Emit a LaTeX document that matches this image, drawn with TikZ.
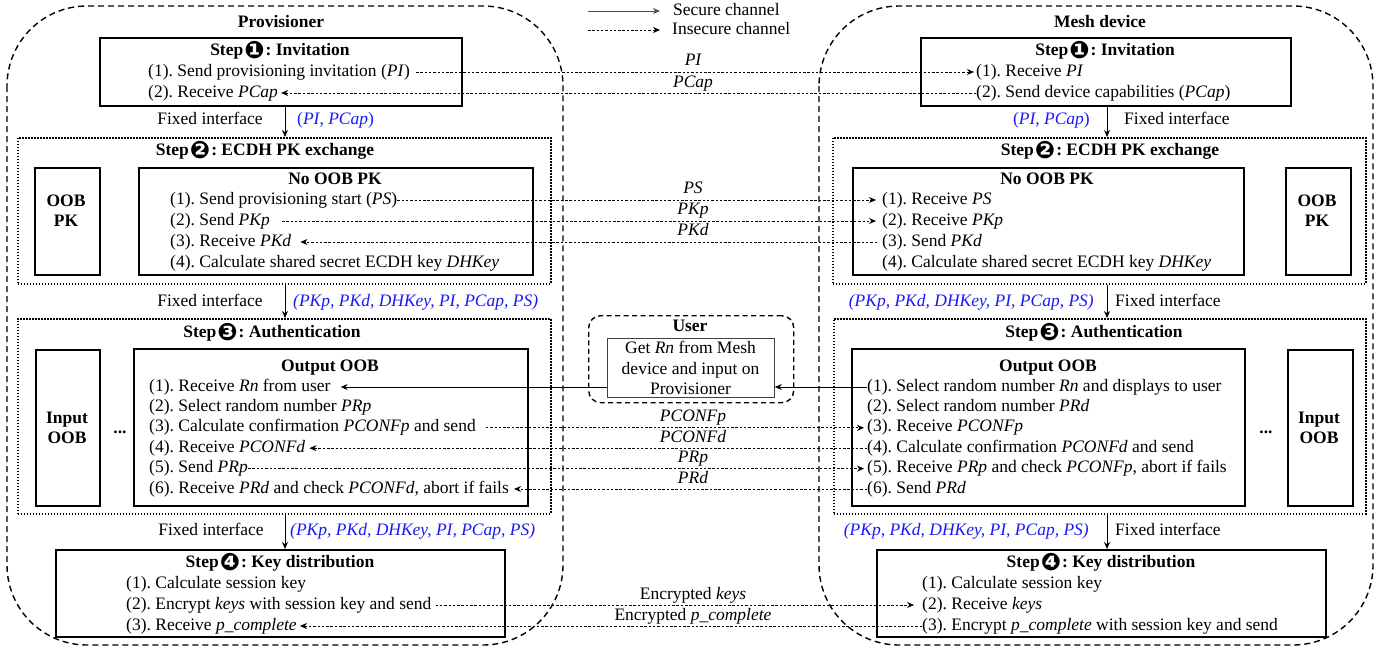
\documentclass[tikz,border=0pt]{standalone}
\usepackage{fontspec}
\setmainfont{Liberation Serif}
\newfontfamily\symfont{DejaVu Sans}
\usetikzlibrary{arrows.meta}
\definecolor{myblue}{RGB}{25,25,245}
\newcommand\myfs{\fontsize{17.5}{20.4}\selectfont\frenchspacing}
\newcommand\stepnum[1]{\kern1pt\raisebox{-3pt}{\symfont\fontsize{24}{24}\selectfont #1}\kern1pt}
\begin{document}
\begin{tikzpicture}[x=1pt,y=-1pt,
  txt/.style={inner sep=0pt, font=\myfs, text height=12pt, text depth=4pt},
  lt/.style={txt, anchor=west},
  hd/.style={txt, font=\myfs\bfseries},
  mtxt/.style={inner sep=0pt, font=\myfs, align=center},
  mhd/.style={inner sep=0pt, font=\myfs\bfseries, align=center},
  lbl/.style={txt, font=\myfs\itshape},
  iface/.style={txt, text=myblue},
  box/.style={draw, line width=1.8pt, inner sep=0pt, anchor=north west},
  dbox/.style={draw, line width=1.5pt, dash pattern=on 1.5pt off 1.5pt, inner sep=0pt, anchor=north west},
  outer/.style={draw, line width=1.4pt, dash pattern=on 6pt off 4pt, rounded corners=80pt},
  ins/.style={-{Stealth[length=7pt,width=6pt]}, line width=0.75pt, dash pattern=on 2.5pt off 1.8pt},
  sec/.style={-{Stealth[length=7pt,width=6pt]}, line width=0.9pt},
]
\useasboundingbox (0,0) rectangle (1391,648);

% outer shapes
\draw[outer] (7,6) rectangle (563,645);
\draw[outer] (819,6) rectangle (1373,645);

% titles
\node[hd] (tP) at (281,23) {Provisioner};
\node[hd] (tM) at (1100,23) {Mesh device};

% legend
\coordinate (lg1a) at (588,11); \coordinate (lg1b) at (660,11);
\coordinate (lg2a) at (588,30); \coordinate (lg2b) at (660,30);
\draw[sec, draw=black!70] (lg1a) -- (lg1b);
\draw[ins] (lg2a) -- (lg2b);
\node[lt] (lg1t) at (673,11) {Secure channel};
\node[lt] (lg2t) at (672,30) {Insecure channel};

% vertical fixed-interface coordinates
\coordinate (vL) at (285,0);
\coordinate (vR) at (1107,0);

% ---------------- Step 1 ----------------
\node[box, minimum width=362, minimum height=68] (s1L) at (99,37) {};
\node[hd] (h1L) at (280,51) {Step\stepnum{❶}: Invitation};
\node[lt] (L1a) at (148,72) {(1). Send provisioning invitation (\textit{PI})};
\node[lt] (L1b) at (148,93) {(2). Receive \textit{PCap}};

\node[box, minimum width=370, minimum height=68] (s1R) at (920,37) {};
\node[hd] (h1R) at (1105,51) {Step\stepnum{❶}: Invitation};
\node[lt] (R1a) at (976,72) {(1). Receive \textit{PI}};
\node[lt] (R1b) at (976,93) {(2). Send device capabilities (\textit{PCap})};

\draw[ins] ([xshift=6pt]L1a.east) -- ([xshift=-2pt]R1a.west);
\node[lbl] (lPI) at (693,61) {PI};
\draw[ins] (R1b.west) -- ([xshift=3pt]L1b.east);
\node[lbl] (lPCap) at (693,83) {PCap};

% fixed interface 1
\node[txt] (f1L) at (210,120) {Fixed interface};
\node[iface, anchor=west] (b1L) at (297,120) {(\textit{PI}, \textit{PCap})};
\node[iface, anchor=east] (b1R) at (1090,120) {(\textit{PI}, \textit{PCap})};
\node[lt] (f1R) at (1124,120) {Fixed interface};

% ---------------- Step 2 ----------------
\node[dbox, minimum width=533, minimum height=146] (s2L) at (17,137) {};
\node[dbox, minimum width=533, minimum height=146] (s2R) at (832,137) {};
\draw[sec] (vL |- s1L.south) -- (vL |- s2L.north);
\draw[sec] (vR |- s1R.south) -- (vR |- s2R.north);

\node[hd] (h2L) at (265,151) {Step\stepnum{❷}: ECDH PK exchange};
\node[hd] (h2R) at (1110,151) {Step\stepnum{❷}: ECDH PK exchange};

\node[box, minimum width=65, minimum height=107] (oobL) at (34,167) {};
\node[mhd] (oobLt) at (66,211) {OOB\\PK};
\node[box, minimum width=65, minimum height=107] (oobR) at (1285,167) {};
\node[mhd] (oobRt) at (1317,211) {OOB\\PK};

\node[box, minimum width=394, minimum height=107] (noL) at (138,167) {};
\node[hd] (noLh) at (335,180) {No OOB PK};
\node[lt] (L2a) at (170,200) {(1). Send provisioning start (\textit{PS})};
\node[lt] (L2b) at (170,221) {(2). Send \textit{PKp}};
\node[lt] (L2c) at (170,242) {(3). Receive \textit{PKd}};
\node[lt] (L2d) at (170,263) {(4). Calculate shared secret ECDH key \textit{DHKey}};

\node[box, minimum width=391, minimum height=107] (noR) at (852,167) {};
\node[hd] (noRh) at (1047,180) {No OOB PK};
\node[lt] (R2a) at (882,200) {(1). Receive \textit{PS}};
\node[lt] (R2b) at (882,221) {(2). Receive \textit{PKp}};
\node[lt] (R2c) at (882,242) {(3). Send \textit{PKd}};
\node[lt] (R2d) at (882,263) {(4). Calculate shared secret ECDH key \textit{DHKey}};

\draw[ins] (L2a.east) -- ([xshift=-6pt]R2a.west);
\node[lbl] (lPS) at (693,189) {PS};
\draw[ins] ([xshift=12pt]L2b.east) -- ([xshift=-6pt]R2b.west);
\node[lbl] (lPKp) at (693,210) {PKp};
\draw[ins] ([xshift=-5pt]R2c.west) -- ([xshift=9pt]L2c.east);
\node[lbl] (lPKd) at (693,231) {PKd};

% fixed interface 2
\node[txt] (f2L) at (210,302) {Fixed interface};
\node[iface, anchor=west, font=\myfs\itshape] (b2L) at (293,302) {(PKp, PKd, DHKey, PI, PCap, PS)};
\node[iface, anchor=east, font=\myfs\itshape] (b2R) at (1094,302) {(PKp, PKd, DHKey, PI, PCap, PS)};
\node[lt] (f2R) at (1115,302) {Fixed interface};

% ---------------- Step 3 ----------------
\node[dbox, minimum width=533, minimum height=195] (s3L) at (17,318) {};
\node[dbox, minimum width=532, minimum height=195] (s3R) at (833,318) {};
\draw[sec] (vL |- s2L.south) -- (vL |- s3L.north);
\draw[sec] (vR |- s2R.south) -- (vR |- s3R.north);

\node[hd] (h3L) at (272,333) {Step\stepnum{❸}: Authentication};
\node[hd] (h3R) at (1094,333) {Step\stepnum{❸}: Authentication};

\node[box, minimum width=64, minimum height=156] (inL) at (35,349) {};
\node[mhd] (inLt) at (67,428) {Input\\OOB};
\node[hd] (dotL) at (120,429) {...};
\node[box, minimum width=65, minimum height=156] (inR) at (1287,349) {};
\node[mhd] (inRt) at (1319,428) {Input\\OOB};
\node[hd] (dotR) at (1266,429) {...};

\node[box, minimum width=394, minimum height=157] (ouL) at (133,348) {};
\node[hd] (ouLh) at (330,367) {Output OOB};
\node[lt] (L3a) at (149,387) {(1). Receive \textit{Rn} from user};
\node[lt] (L3b) at (149,407.4) {(2). Select random number \textit{PRp}};
\node[lt] (L3c) at (149,427.8) {(3). Calculate confirmation \textit{PCONFp} and send};
\node[lt] (L3d) at (149,448.2) {(4). Receive \textit{PCONFd}};
\node[lt] (L3e) at (149,468.6) {(5). Send \textit{PRp}};
\node[lt] (L3f) at (149,489) {(6). Receive \textit{PRd} and check \textit{PCONFd}, abort if fails};

\node[box, minimum width=393, minimum height=157] (ouR) at (851,348) {};
\node[hd] (ouRh) at (1048,367) {Output OOB};
\node[lt] (R3a) at (867,387) {(1). Select random number \textit{Rn} and displays to user};
\node[lt] (R3b) at (867,407.4) {(2). Select random number \textit{PRd}};
\node[lt] (R3c) at (867,427.8) {(3). Receive \textit{PCONFp}};
\node[lt] (R3d) at (867,448.2) {(4). Calculate confirmation \textit{PCONFd} and send};
\node[lt] (R3e) at (867,468.6) {(5). Receive \textit{PRp} and check \textit{PCONFp}, abort if fails};
\node[lt] (R3f) at (867,489) {(6). Send \textit{PRd}};

% user
\node[draw, line width=1.4pt, dash pattern=on 5pt off 3.5pt, rounded corners=12pt, minimum width=205, minimum height=87, anchor=north west] (user) at (588,315) {};
\node[hd] (userh) at (690,327) {User};
\node[draw=black!75, line width=0.8pt, inner sep=0pt, minimum width=167, minimum height=59, anchor=north west] (uin) at (607,338) {};
\node[mtxt] (uint) at (690.5,368) {Get \textit{Rn} from Mesh\\device and input on\\Provisioner};

\draw[sec] (R3a.west) -- (R3a.west -| uin.east);
\draw[sec] (L3a.east -| uin.west) -- ([xshift=10pt]L3a.east);

\draw[ins] ([xshift=10pt]L3c.east) -- ([xshift=-3pt]R3c.west);
\node[lbl] (lPCONFp) at (693,417) {PCONFp};
\draw[ins] (R3d.west) -- ([xshift=4pt]L3d.east);
\node[lbl] (lPCONFd) at (693,438) {PCONFd};
\draw[ins] (L3e.east) -- ([xshift=-3pt]R3e.west);
\node[lbl] (lPRp) at (693,458) {PRp};
\draw[ins] (R3f.west) -- ([xshift=5pt]L3f.east);
\node[lbl] (lPRd) at (693,479) {PRd};

% fixed interface 3
\node[txt] (f3L) at (211,531) {Fixed interface};
\node[iface, anchor=west, font=\myfs\itshape] (b3L) at (290,531) {(PKp, PKd, DHKey, PI, PCap, PS)};
\node[iface, anchor=east, font=\myfs\itshape] (b3R) at (1089,531) {(PKp, PKd, DHKey, PI, PCap, PS)};
\node[lt] (f3R) at (1115,531) {Fixed interface};

% ---------------- Step 4 ----------------
\node[box, minimum width=449, minimum height=87] (s4L) at (55,549) {};
\node[box, minimum width=449, minimum height=87] (s4R) at (876,549) {};
\draw[sec] (vL |- s3L.south) -- (vL |- s4L.north);
\draw[sec] (vR |- s3R.south) -- (vR |- s4R.north);

\node[hd] (h4L) at (280,563) {Step\stepnum{❹}: Key distribution};
\node[lt] (L4a) at (126,584) {(1). Calculate session key};
\node[lt] (L4b) at (126,605) {(2). Encrypt \textit{keys} with session key and send};
\node[lt] (L4c) at (126,626) {(3). Receive \textit{p\_complete}};

\node[hd] (h4R) at (1101,563) {Step\stepnum{❹}: Key distribution};
\node[lt] (R4a) at (922,584) {(1). Calculate session key};
\node[lt] (R4b) at (922,605) {(2). Receive \textit{keys}};
\node[lt] (R4c) at (922,626) {(3). Encrypt \textit{p\_complete} with session key and send};

\draw[ins] ([xshift=4pt]L4b.east) -- ([xshift=-8pt]R4b.west);
\node[txt] (lkeys) at (693,595) {Encrypted \textit{keys}};
\draw[ins] (R4c.west) -- ([xshift=3pt]L4c.east);
\node[txt] (lpc) at (693,616) {Encrypted \textit{p\_complete}};
\end{tikzpicture}
\end{document}
